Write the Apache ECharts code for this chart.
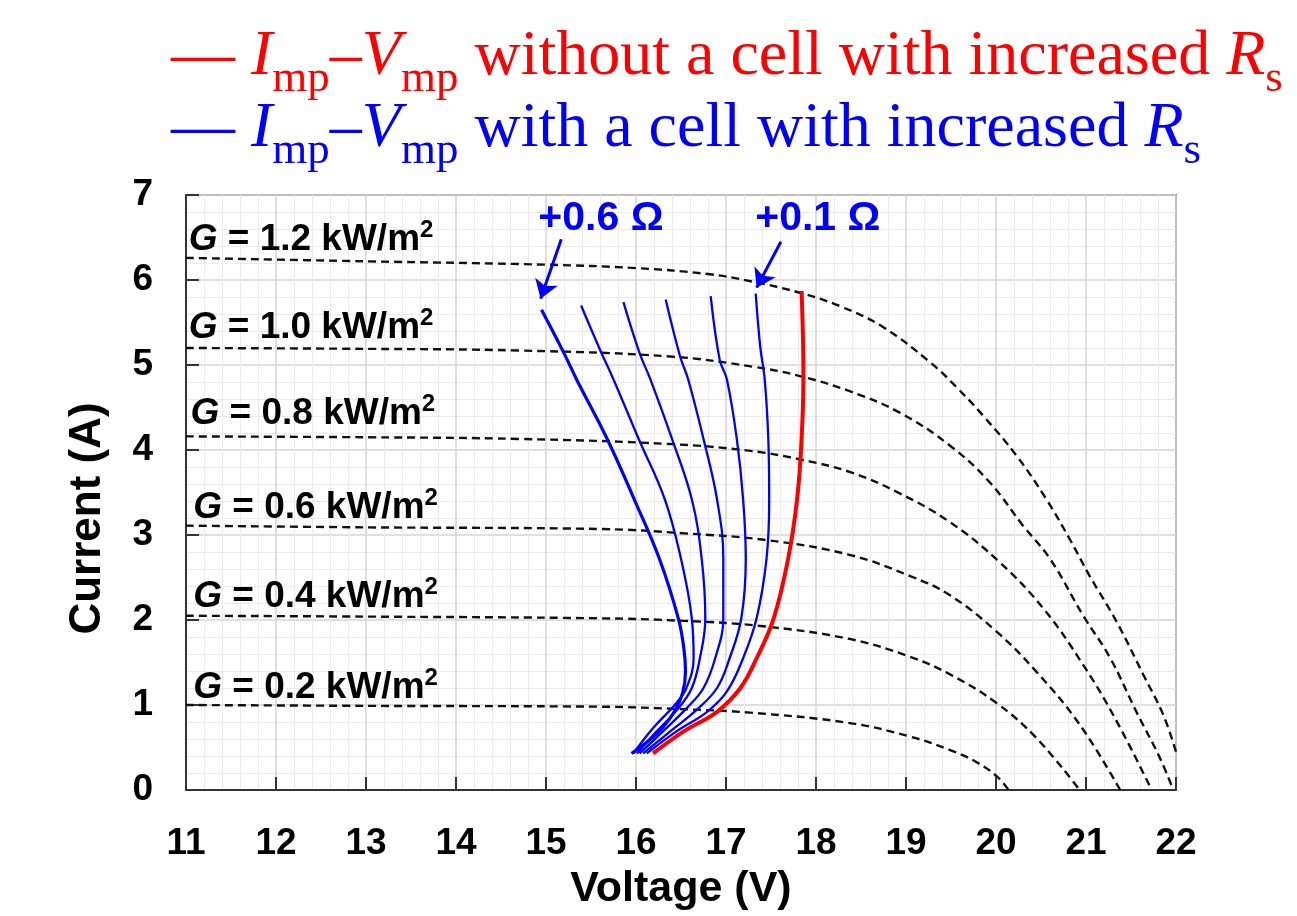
<!DOCTYPE html>
<html><head><meta charset="utf-8">
<script src="https://cdn.jsdelivr.net/npm/echarts@6/dist/echarts.min.js"></script>
<style>html,body{margin:0;padding:0;background:#fff}#c{width:1297px;height:916px}</style>
</head><body><div id="c"></div>
<script>
// ---------- DATA (Voltage V, Current A) ----------
// I-V curves of the module at each irradiance (dashed)
const irradianceLabels = ['1.2', '1.0', '0.8', '0.6', '0.4', '0.2'];
const ivG12 = [[11,6.26],[13,6.22],[15,6.18],[16,6.14],[16.8,6.07],[17.3,5.98],[17.82,5.85],[18.27,5.69],[18.74,5.45],[19.27,5.03],[19.56,4.74],[19.86,4.40],[20.23,3.93],[20.56,3.42],[20.82,2.95],[21.04,2.52],[21.34,1.98],[21.64,1.35],[21.86,0.88],[22.0,0.45]];
const ivG10 = [[11,5.20],[13,5.19],[14.71,5.17],[16.38,5.10],[17.3,4.98],[17.82,4.87],[18.38,4.69],[18.93,4.44],[19.49,4.05],[19.93,3.62],[20.3,3.11],[20.6,2.72],[20.97,2.05],[21.27,1.55],[21.56,0.92],[21.82,0.38],[21.97,0.0]];
const ivG08 = [[11,4.16],[13,4.15],[14.71,4.13],[16.38,4.07],[17.27,3.99],[17.82,3.89],[18.38,3.74],[18.93,3.49],[19.49,3.15],[20.04,2.68],[20.53,2.13],[20.97,1.47],[21.34,0.81],[21.73,0.0]];
const ivG06 = [[11,3.11],[13,3.09],[15.63,3.07],[16.53,3.02],[17.45,2.94],[18.36,2.77],[19.04,2.52],[19.49,2.29],[20.01,1.86],[20.45,1.39],[20.93,0.77],[21.38,0.0]];
const ivG04 = [[11,2.05],[13,2.04],[15.6,2.02],[16.53,1.99],[17.38,1.93],[18.36,1.78],[19.04,1.57],[19.49,1.36],[20.01,1.02],[20.45,0.61],[20.93,0.0]];
const ivG02 = [[11,1.0],[13,0.99],[15.6,0.98],[16.53,0.95],[17.27,0.91],[18.36,0.79],[19.04,0.63],[19.49,0.47],[19.78,0.33],[20.01,0.16],[20.14,0.0]];

// Impp-Vmpp loci
const mppNormal = [[17.84,5.87],[17.86,4.87],[17.84,4.13],[17.79,3.42],[17.69,2.72],[17.53,2.02],[17.34,1.55],[17.16,1.20],[16.90,0.92],[16.53,0.69],[16.19,0.43]];
const mppRs01 = [[17.33,5.84],[17.38,5.22],[17.43,4.83],[17.47,4.13],[17.48,3.42],[17.45,2.72],[17.34,2.02],[17.19,1.55],[17.01,1.16],[16.79,0.92],[16.45,0.69],[16.12,0.43]];
const mppRs02 = [[16.83,5.81],[16.93,5.06],[17.01,4.83],[17.12,4.13],[17.19,3.42],[17.22,2.72],[17.17,2.02],[17.04,1.55],[16.90,1.20],[16.67,0.94],[16.38,0.69],[16.08,0.43]];
const mppRs03 = [[16.33,5.77],[16.49,5.10],[16.58,4.83],[16.75,4.13],[16.90,3.42],[16.97,2.72],[16.97,2.02],[16.88,1.55],[16.75,1.20],[16.56,0.96],[16.30,0.69],[16.04,0.43]];
const mppRs04 = [[15.86,5.74],[16.04,5.14],[16.16,4.83],[16.40,4.13],[16.62,3.42],[16.73,2.72],[16.77,2.02],[16.71,1.55],[16.62,1.20],[16.47,0.96],[16.23,0.69],[16.01,0.43]];
const mppRs05 = [[15.39,5.70],[15.60,5.18],[15.75,4.83],[16.03,4.13],[16.32,3.42],[16.50,2.72],[16.62,2.02],[16.64,1.55],[16.56,1.20],[16.43,1.00],[16.19,0.73],[15.97,0.43]];
const mppRs06 = [[14.95,5.65],[15.19,5.16],[15.34,4.83],[15.68,4.13],[15.98,3.42],[16.26,2.72],[16.47,2.02],[16.53,1.68],[16.55,1.40],[16.52,1.15],[16.43,0.93],[16.30,0.74],[16.14,0.58],[15.95,0.43]];

// ---------- annotation anchors (data coordinates) ----------
const gLabelAnchor = [[11.03,6.49],[11.03,5.46],[11.05,4.44],[11.08,3.34],[11.08,2.29],[11.08,1.22]];
const rsLabelAnchor = {r06:[15.61,6.72], r01:[18.02,6.72]};
const arrow06 = [[15.17,6.48],[14.94,5.78]];
const arrow01 = [[17.61,6.45],[17.34,5.91]];

// ---------- chart ----------
const BLUE = '#0000ff', RED = '#ff0000';
const SANS = '"Liberation Sans", Arial, sans-serif';
const SERIF = '"Liberation Serif", "Times New Roman", serif';

const ivSets = [ivG12, ivG10, ivG08, ivG06, ivG04, ivG02];
const series = [];
ivSets.forEach((d, k) => {
  series.push({
    type: 'line', name: 'G=' + irradianceLabels[k], data: d, smooth: 0.4,
    showSymbol: false, symbol: 'none',
    lineStyle: {color: '#111', width: 2.4, type: [8, 5]}, z: 2,
    markPoint: {
      symbol: 'rect', symbolSize: 0, silent: true,
      label: {
        show: true, position: 'right', distance: 0,
        formatter: '{g|G}{t| = ' + irradianceLabels[k] + ' kW/m}{sup|2}',
        rich: {
          g: {fontFamily: SANS, fontWeight: 'bold', fontStyle: 'italic', fontSize: 37, color: '#000', lineHeight: 40, verticalAlign: 'bottom'},
          t: {fontFamily: SANS, fontWeight: 'bold', fontSize: 37, color: '#000', lineHeight: 40, verticalAlign: 'bottom'},
          sup: {fontFamily: SANS, fontWeight: 'bold', fontSize: 24, color: '#000', lineHeight: 24, verticalAlign: 'top'}
        }
      },
      data: [{coord: gLabelAnchor[k]}]
    }
  });
});

const mppSets = [mppRs06, mppRs05, mppRs04, mppRs03, mppRs02, mppRs01];
mppSets.forEach((d, k) => {
  const s = {
    type: 'line', name: 'Rs+' + (0.6 - 0.1 * k).toFixed(1), data: d, smooth: 0.4,
    showSymbol: false, symbol: 'none',
    lineStyle: {color: BLUE, width: k === 0 ? 3.2 : 2.3}, z: 3
  };
  const lblStyle = {fontFamily: SANS, fontWeight: 'bold', fontSize: 41, color: BLUE};
  if (k === 0 || k === 5) {
    const anchor = k === 0 ? rsLabelAnchor.r06 : rsLabelAnchor.r01;
    const arr = k === 0 ? arrow06 : arrow01;
    s.markPoint = {
      symbol: 'rect', symbolSize: 0, silent: true,
      label: Object.assign({show: true, position: 'inside', formatter: k === 0 ? '+0.6 Ω' : '+0.1 Ω'}, lblStyle),
      data: [{coord: anchor}]
    };
    s.markLine = {
      silent: true, symbol: ['none', 'arrow'], symbolSize: 18,
      lineStyle: {color: BLUE, width: 3, type: 'solid'}, label: {show: false},
      itemStyle: {color: BLUE},
      data: [[{coord: arr[0]}, {coord: arr[1]}]]
    };
  }
  series.push(s);
});
series.push({
  type: 'line', name: 'normal', data: mppNormal, smooth: 0.4,
  showSymbol: false, symbol: 'none',
  lineStyle: {color: RED, width: 4}, z: 4
});

const legendRich = (col) => ({
  n: {fontFamily: SERIF, fontSize: 64, lineHeight: 72, fill: col, verticalAlign: 'bottom', padding: [0, 0, 18, 0]},
  i: {fontFamily: SERIF, fontStyle: 'italic', fontSize: 64, lineHeight: 72, fill: col, verticalAlign: 'bottom', padding: [0, 0, 18, 0]},
  s: {fontFamily: SERIF, fontSize: 45, lineHeight: 45, fill: col, verticalAlign: 'bottom', padding: [0, 0, 5, 0]}
});

const option = {
  animation: false,
  backgroundColor: '#fff',
  grid: {left: 186, right: 121, top: 195, bottom: 124, show: true, borderColor: '#777', borderWidth: 2, backgroundColor: 'transparent'},
  xAxis: {
    type: 'value', min: 11, max: 22, interval: 1,
    name: 'Voltage (V)', nameLocation: 'middle', nameGap: 78,
    nameTextStyle: {fontFamily: SANS, fontWeight: 'bold', fontSize: 43, color: '#000'},
    axisLine: {show: true, onZero: false, lineStyle: {color: '#333', width: 2}},
    axisTick: {show: true, inside: true, length: 13, lineStyle: {color: '#333', width: 2}},
    axisLabel: {fontFamily: SANS, fontWeight: 'bold', fontSize: 37, color: '#000', margin: 35},
    splitLine: {show: true, lineStyle: {color: '#d4d4d4', width: 1.5}},
    minorTick: {show: false, splitNumber: 5},
    minorSplitLine: {show: true, lineStyle: {color: '#ebebeb', width: 1}}
  },
  yAxis: {
    type: 'value', min: 0, max: 7, interval: 1,
    name: 'Current (A)', nameLocation: 'middle', nameGap: 76, nameRotate: 90,
    nameTextStyle: {fontFamily: SANS, fontWeight: 'bold', fontSize: 44, color: '#000', padding: [0, 52, 0, 0]},
    axisLine: {show: true, onZero: false, lineStyle: {color: '#333', width: 2}},
    axisTick: {show: true, inside: true, length: 13, lineStyle: {color: '#333', width: 2}},
    axisLabel: {fontFamily: SANS, fontWeight: 'bold', fontSize: 37, color: '#000', margin: 33},
    splitLine: {show: true, lineStyle: {color: '#d4d4d4', width: 1.5}},
    minorTick: {show: false, splitNumber: 5},
    minorSplitLine: {show: true, lineStyle: {color: '#ebebeb', width: 1}}
  },
  graphic: [
    {type: 'text', left: 171, top: 25, z: 10, style: {
      text: '{n|— }{i|I}{s|mp}{n|–}{i|V}{s|mp}{n| without a cell with increased }{i|R}{s|s}',
      rich: legendRich(RED), fill: RED}},
    {type: 'text', left: 171, top: 97, z: 10, style: {
      text: '{n|— }{i|I}{s|mp}{n|–}{i|V}{s|mp}{n| with a cell with increased }{i|R}{s|s}',
      rich: legendRich(BLUE), fill: BLUE}}
  ],
  series: series
};

const chart = echarts.init(document.getElementById('c'), null, {renderer: 'canvas'});
chart.setOption(option);
</script>
</body></html>
